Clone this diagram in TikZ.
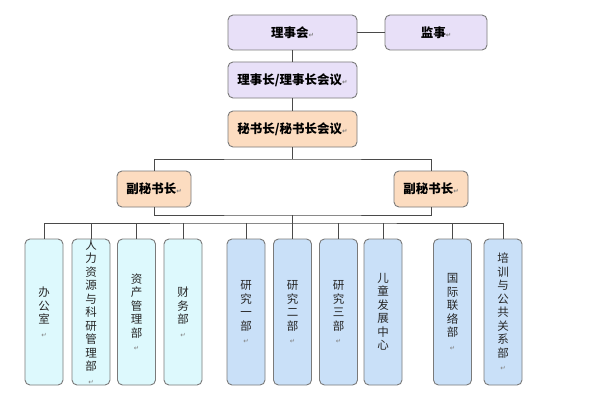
\documentclass[tikz,border=0pt]{standalone}
\usepackage{fontspec}
\newfontfamily\cjk{Noto Sans CJK SC}
\newfontfamily\symf{DejaVu Sans}
\definecolor{lav}{HTML}{E8E0F8}
\definecolor{peach}{HTML}{FCDCC0}
\definecolor{cyanl}{HTML}{DDF9FD}
\definecolor{bluel}{HTML}{C9E0F8}
\definecolor{bord}{HTML}{7A7A7A}
\definecolor{linec}{HTML}{4A4A4A}
\newcommand{\retmark}{{\symf\fontsize{6.5}{6.5}\selectfont\textcolor{gray}{↵}}}
\tikzset{
  box/.style={draw=bord, line width=0.9pt, rounded corners=5pt, inner sep=0pt, align=center},
  topbox/.style={box, fill=lav, minimum width=129pt, minimum height=35pt, font=\cjk\bfseries\fontsize{12.5}{14}\selectfont},
  secbox/.style={box, fill=peach, minimum height=36pt, font=\cjk\bfseries\fontsize{12.5}{14}\selectfont},
  dept/.style={box, minimum width=38pt, minimum height=146pt, font=\cjk\fontsize{11.5}{13.5}\selectfont, text=black!85},
  deptc/.style={dept, fill=cyanl},
  deptb/.style={dept, fill=bluel},
  conn/.style={draw=linec, line width=0.8pt}
}
\begin{document}
\begin{tikzpicture}[x=1pt,y=-1pt]
\useasboundingbox (0,0) rectangle (602,420);
\fill[white] (0,0) rectangle (602,420);
% top
\node[topbox] (lsh) at (292.5,32.5) {理事会\retmark};
\node[topbox, minimum width=102pt] (js) at (436,32.5) {监事\retmark};
\node[topbox, minimum height=36pt] (lsz) at (292.5,80) {理事长/理事长会议\retmark};
\node[secbox, minimum width=129pt] (msz) at (292.5,129) {秘书长/秘书长会议\retmark};
\node[secbox, minimum width=74pt] (f1) at (154,189) {副秘书长\retmark};
\node[secbox, minimum width=74pt] (f2) at (431,189) {副秘书长\retmark};
% departments
\node[deptc] (d1) at (44,312) {办\\公\\室\\\retmark};
\node[deptc] (d2) at (91,312) {人\\力\\资\\源\\与\\科\\研\\管\\理\\部\\\retmark};
\node[deptc] (d3) at (136.5,312) {资\\产\\管\\理\\部\\\retmark};
\node[deptc] (d4) at (183,312) {财\\务\\部\\\retmark};
\node[deptb] (d5) at (246,312) {研\\究\\一\\部\\\retmark};
\node[deptb] (d6) at (292.5,312) {研\\究\\二\\部\\\retmark};
\node[deptb] (d7) at (338.5,312) {研\\究\\三\\部\\\retmark};
\node[deptb] (d8) at (383,312) {儿\\童\\发\\展\\中\\心};
\node[deptb] (d9) at (452.5,312) {国\\际\\联\\络\\部\\\retmark};
\node[deptb] (d10) at (503,312) {培\\训\\与\\公\\共\\关\\系\\部\\\retmark};
% connectors
\coordinate (tj) at (292.5,159);
\coordinate (bj) at (292.5,215);
\coordinate (bus) at (292.5,223);
\draw[conn] (lsh) -- (js);
\draw[conn] (lsh) -- (lsz);
\draw[conn] (lsz) -- (msz);
\draw[conn] (msz) -- (tj);
\draw[conn] (f1) |- (tj) -| (f2);
\draw[conn] (f1) |- (bj) -| (f2);
\draw[conn] (bj) -- (bus);
\draw[conn] (d1) |- (bus) -| (d10);
\foreach \n in {d2,d3,d4,d5,d6,d7,d8,d9} \draw[conn] (\n) -- (\n |- bus);
\end{tikzpicture}
\end{document}
